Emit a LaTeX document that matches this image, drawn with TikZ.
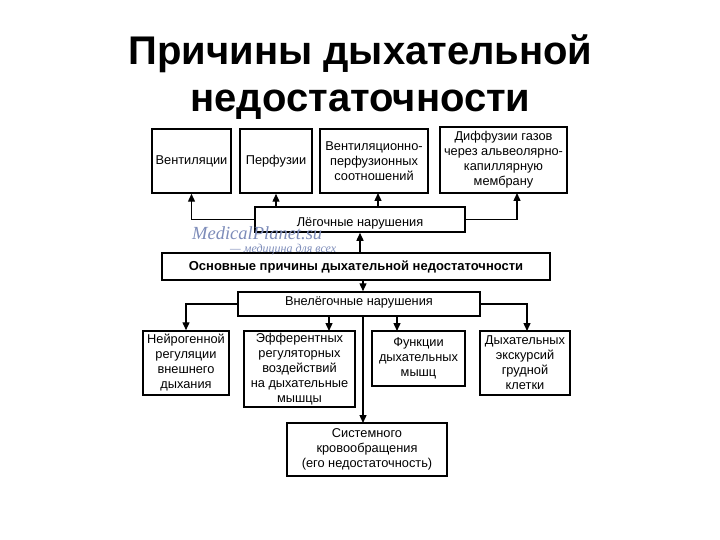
\documentclass[tikz,border=0pt]{standalone}
\usepackage{fontspec}
\setmainfont{Liberation Sans}
\newfontfamily\wmfont{Liberation Serif}
\usetikzlibrary{arrows.meta}
\begin{document}
\begin{tikzpicture}[x=1pt,y=-1pt,
  box/.style={draw, line width=1.5pt, align=center, inner sep=1pt,
    font=\fontsize{12.8}{15}\selectfont},
  arr/.style={line width=1.4pt, -{Triangle[width=7pt,length=8pt]}},
  wmcol/.style={text={rgb,255:red,125;green,140;blue,185}}]
\useasboundingbox (0,0) rectangle (720,540);
% title
\node[anchor=base, font=\bfseries\fontsize{40}{47}\selectfont] (t1) at (360.5,65) {Причины дыхательной};
\node[anchor=base, font=\bfseries\fontsize{40}{47}\selectfont] (t2) at (360.5,112) {недостаточности};
% top row
\node[box, minimum width=79pt, minimum height=64pt] (v1) at (191.5,161) {Вентиляции};
\node[box, minimum width=72pt, minimum height=64pt] (v2) at (276,161) {Перфузии};
\node[box, minimum width=108pt, minimum height=64pt] (v3) at (374,161) {Вентиляционно-\\перфузионных\\соотношений};
\node[box, minimum width=127pt, minimum height=66pt] (v4) at (503.5,160) {Диффузии газов\\через альвеолярно-\\капиллярную\\мембрану};
% middle
\node[box, minimum width=210pt, minimum height=25pt, text height=13pt, text depth=0pt] (leg) at (360,219.5) {Лёгочные нарушения};
\node[box, minimum width=388pt, minimum height=27pt, text height=9pt, text depth=2pt, font=\bfseries\fontsize{13}{15}\selectfont] (osn) at (356,266.5) {Основные причины дыхательной недостаточности};
\node[box, minimum width=242pt, minimum height=24pt, text height=6pt, text depth=3pt] (vne) at (359,304) {Внелёгочные нарушения};
% bottom row
\node[box, minimum width=86pt, minimum height=64pt] (b1) at (186,363) {Нейрогенной\\регуляции\\внешнего\\дыхания};
\node[box, minimum width=111pt, minimum height=76pt] (b2) at (299.5,369) {Эфферентных\\регуляторных\\воздействий\\на дыхательные\\мышцы};
\node[box, minimum width=93pt, minimum height=55pt] (b3) at (418.5,358.5) {Функции\\дыхательных\\мышц};
\node[box, minimum width=90pt, minimum height=64pt] (b4) at (525,363) {Дыхательных\\экскурсий\\грудной\\клетки};
\node[box, minimum width=160pt, minimum height=53pt] (sys) at (367,449.5) {Системного\\кровообращения\\(его недостаточность)};
% watermark
\node[anchor=base west, wmcol, font=\wmfont\itshape\fontsize{18.5}{18.5}\selectfont, inner sep=0pt] (wm) at (192,240) {MedicalPlanet.su};
\node[anchor=base west, wmcol, font=\wmfont\itshape\fontsize{12}{12}\selectfont, inner sep=0pt] (wm2) at (230,252.5) {— медицина для всех};
% connector coordinates
\coordinate (v3in) at (378,193);
\coordinate (v4in) at (517,193);
\coordinate (b2in) at (329,331);
\coordinate (b3in) at (397,331);
\coordinate (b4in) at (527,331);
\coordinate (sysin) at (363,423);
\coordinate (osnup) at (360,253);
\coordinate (osndn) at (363,280);
% arrows up
\draw[arr] (leg.west) -| (v1.south);
\draw[arr] (leg.north -| v2.south) -- (v2.south);
\draw[arr] (leg.north -| v3in) -- (v3in);
\draw[arr] (leg.east) -| (v4in);
\draw[arr] (osnup) -- (osnup |- leg.south);
\draw[arr] (osndn) -- (osndn |- vne.north);
% arrows down
\draw[arr] (vne.west) -| (b1.north);
\draw[arr] (vne.south -| b2in) -- (b2in);
\draw[arr] (vne.south -| b3in) -- (b3in);
\draw[arr] (vne.east) -| (b4in);
\draw[arr] (vne.south -| sysin) -- (sysin);
\end{tikzpicture}
\end{document}
